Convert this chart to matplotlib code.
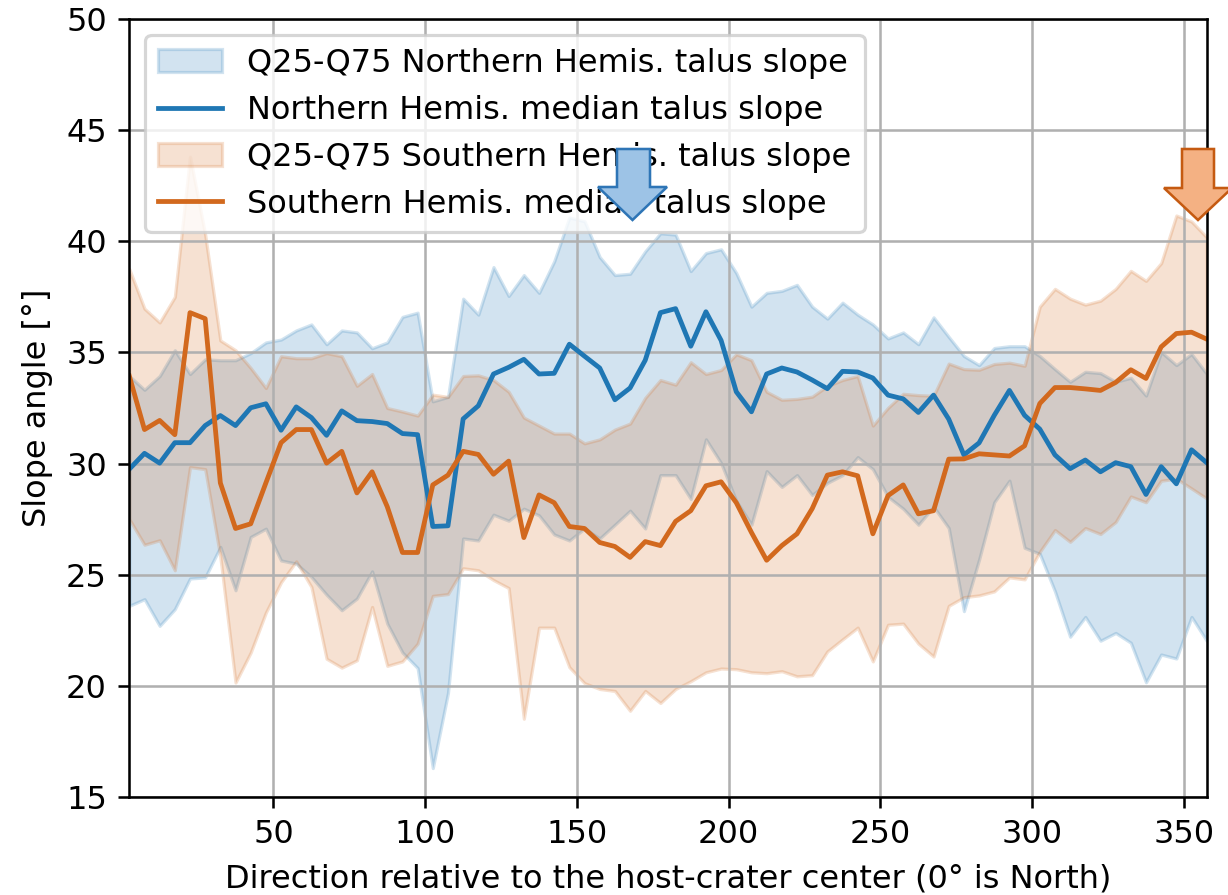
import matplotlib
matplotlib.use("Agg")
import matplotlib.pyplot as plt
from matplotlib.patches import Polygon
import numpy as np

# direction bins (5 deg wide)
direction = np.arange(2.5, 360, 5)

n_median = [29.75, 30.46, 30.02, 30.94, 30.94, 31.71, 32.16, 31.71, 32.51, 32.69,
            31.5, 32.55, 32.07, 31.27, 32.37, 31.93, 31.89, 31.8, 31.35, 31.3,
            27.17, 27.2, 32.01, 32.6, 34.03, 34.33, 34.69, 34.03, 34.06, 35.37,
            34.83, 34.3, 32.87, 33.4, 34.65, 36.79, 36.97, 35.28, 36.83, 35.54,
            33.23, 32.33, 34.03, 34.3, 34.12, 33.76, 33.37, 34.15, 34.12, 33.85,
            33.08, 32.91, 32.3, 33.08, 32.0, 30.39, 30.93, 32.17, 33.29, 32.17,
            31.55, 30.39, 29.77, 30.16, 29.63, 30.04, 29.86, 28.61, 29.86, 29.09,
            30.62, 30.04]

n_q25 = [23.6, 23.9, 22.7, 23.45, 24.83, 24.88, 26.25, 24.3, 26.7, 27.07,
         25.64, 25.5, 24.9, 24.1, 23.4, 23.93, 25.15, 22.8, 21.5, 20.8,
         16.3, 19.68, 26.63, 26.54, 27.7, 27.43, 27.97, 27.67, 26.81, 26.54,
         27.08, 26.63, 27.25, 27.88, 27.08, 29.48, 29.48, 28.41, 31.09, 30.02,
         28.32, 27.25, 29.66, 28.95, 29.48, 28.59, 29.13, 29.48, 30.29, 29.75,
         28.5, 27.97, 27.25, 28.06, 27.1, 23.36, 25.68, 28.26, 29.23, 26.21,
         25.94, 24.25, 22.21, 23.1, 22.03, 22.38, 21.94, 20.16, 21.41, 21.23,
         23.1, 22.03]

n_q75 = [33.94, 33.32, 33.94, 35.1, 34.03, 34.69, 34.65, 34.65, 34.97, 35.45,
         35.58, 35.99, 36.26, 35.37, 35.99, 35.9, 35.19, 35.45, 36.6, 36.79,
         32.8, 33.0, 37.42, 36.7, 38.84, 37.54, 38.48, 37.68, 39.1, 41.07,
         40.9, 39.29, 38.48, 38.54, 39.55, 40.36, 40.3, 38.66, 39.47, 39.64,
         38.57, 37.06, 37.68, 37.77, 38.04, 37.06, 36.52, 37.24, 36.7, 36.26,
         35.63, 35.9, 35.37, 36.58, 35.7, 34.84, 34.43, 35.2, 35.28, 35.28,
         34.84, 34.25, 33.68, 34.13, 34.07, 33.68, 33.86, 33.06, 35.02, 34.43,
         34.93, 34.04]

s_median = [33.94, 31.53, 31.94, 31.3, 36.79, 36.52, 29.13, 27.08, 27.29, 29.13,
            30.94, 31.53, 31.53, 30.02, 30.55, 28.68, 29.63, 28.06, 26.0, 26.0,
            29.04, 29.48, 30.55, 30.41, 29.52, 30.11, 26.67, 28.59, 28.24, 27.17,
            27.08, 26.45, 26.27, 25.78, 26.49, 26.31, 27.4, 27.88, 29.0, 29.18,
            28.24, 26.9, 25.65, 26.31, 26.84, 27.97, 29.48, 29.63, 29.45, 26.84,
            28.56, 29.04, 27.74, 27.88, 30.2, 30.21, 30.44, 30.39, 30.34, 30.8,
            32.7, 33.42, 33.42, 33.36, 33.29, 33.65, 34.22, 33.83, 35.25, 35.85,
            35.91, 35.6]

s_q25 = [27.5, 26.35, 26.55, 25.2, 29.84, 29.75, 25.8, 20.15, 21.5, 23.3,
         24.66, 25.6, 24.45, 21.22, 20.82, 21.15, 23.55, 20.9, 21.1, 21.9,
         24.05, 24.13, 25.29, 25.2, 24.76, 24.4, 18.52, 22.62, 22.62, 20.84,
         20.12, 19.86, 19.77, 18.88, 19.77, 19.23, 19.86, 20.21, 20.61, 20.78,
         20.75, 20.61, 20.57, 20.66, 20.43, 20.48, 21.55, 22.09, 22.62, 21.1,
         22.75, 22.8, 21.9, 21.32, 23.6, 23.99, 24.07, 24.25, 24.88, 24.79,
         26.03, 27.01, 26.48, 27.1, 26.83, 27.37, 28.52, 28.26, 29.23, 29.32,
         28.88, 28.43]

s_q75 = [38.75, 36.97, 36.35, 37.5, 43.8, 40.3, 35.54, 35.1, 34.3, 33.4,
         34.83, 34.74, 34.74, 34.97, 34.83, 33.5, 34.03, 32.5, 32.34, 32.16,
         33.1, 33.0, 33.94, 33.97, 33.76, 33.23, 32.07, 31.71, 31.35, 31.35,
         30.91, 31.09, 31.53, 31.8, 32.96, 33.76, 33.55, 34.56, 34.03, 34.21,
         34.92, 34.65, 33.23, 32.87, 32.91, 33.01, 33.49, 33.76, 33.94, 31.71,
         32.51, 33.14, 33.08, 33.05, 34.5, 34.25, 34.22, 34.48, 34.54, 34.4,
         37.06, 37.86, 37.42, 37.15, 37.33, 37.86, 38.67, 38.22, 39.02, 41.16,
         40.89, 40.18]

W, H, DPI = 1228, 895, 230

fig = plt.figure(figsize=(W / DPI, H / DPI), dpi=DPI)
ax = fig.add_axes([129.3 / W, 1 - 797 / H, (1206.7 - 129.3) / W, (797 - 19) / H])

ax.fill_between(direction, n_q25, n_q75, color="tab:blue", alpha=0.2,
                label="Q25-Q75 Northern Hemis. talus slope")
ax.plot(direction, n_median, color="tab:blue", lw=1.5,
        label="Northern Hemis. median talus slope")
ax.fill_between(direction, s_q25, s_q75, color="chocolate", alpha=0.2,
                label="Q25-Q75 Southern Hemis. talus slope")
ax.plot(direction, s_median, color="chocolate", lw=1.5,
        label="Southern Hemis. median talus slope")

ax.set_xlim(direction[0], direction[-1])
ax.set_ylim(15, 50)
ax.set_xticks([50, 100, 150, 200, 250, 300, 350])
ax.set_yticks(np.arange(15, 51, 5))
ax.grid(True)

ax.set_xlabel("Direction relative to the host-crater center (0° is North)")
ax.set_ylabel("Slope angle [°]")
ax.legend(loc="upper left")


# block arrows pasted on top of the figure (pixel coords, y from top)
def block_arrow(xl, xr, top, neck, wl, wr, tip, face, edge):
    cx = (wl + wr) / 2
    pts = [(xl, top), (xr, top), (xr, neck), (wr, neck), (cx, tip),
           (wl, neck), (xl, neck)]
    pts = [(x / W, 1 - y / H) for x, y in pts]
    fig.add_artist(Polygon(pts, closed=True, facecolor=face, edgecolor=edge,
                           lw=0.8, transform=fig.transFigure, zorder=5))


block_arrow(617, 650, 149, 187, 598, 667, 220, "#9dc3e6", "#2e75b6")
block_arrow(1182, 1214, 149, 188, 1164, 1232, 220, "#f4b183", "#c55a11")

fig.savefig("out.png", dpi=DPI)
